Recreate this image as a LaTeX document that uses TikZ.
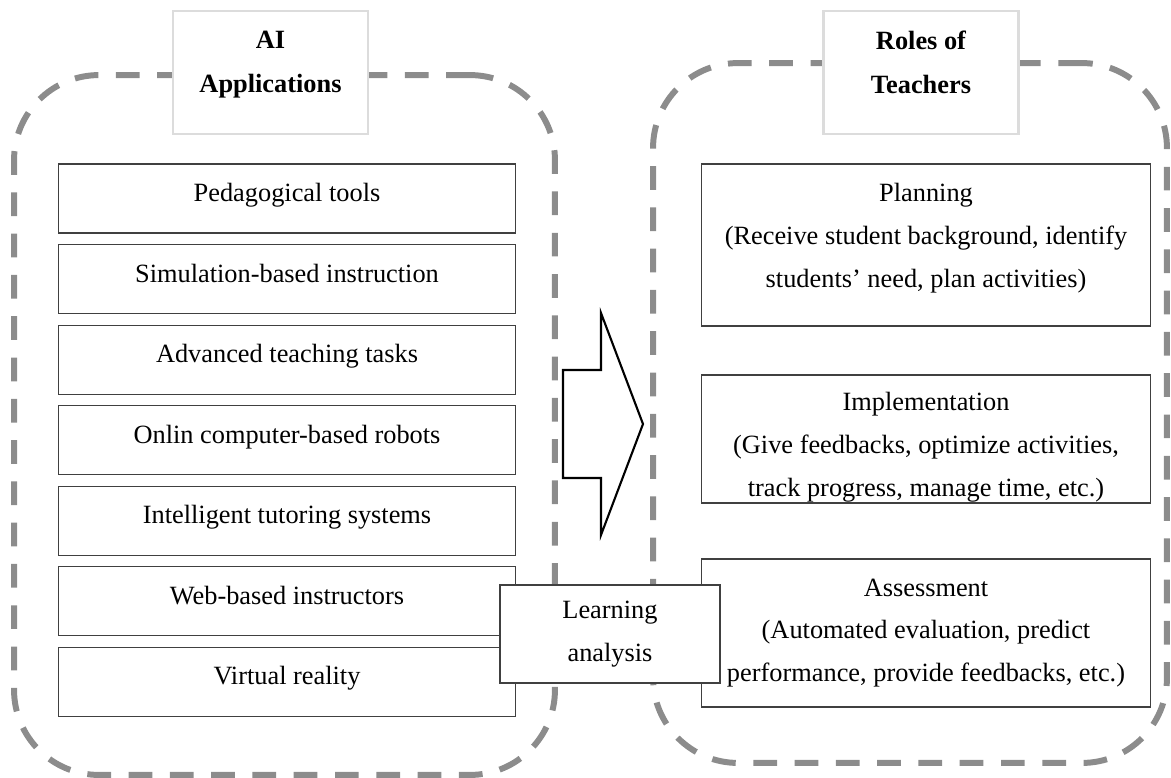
\documentclass[tikz,border=0pt]{standalone}
\usepackage{fontspec}
\setmainfont{Liberation Serif}
\usetikzlibrary{positioning}
\definecolor{cdash}{HTML}{8C8C8C}
\definecolor{ctitle}{HTML}{DCDCDC}
\definecolor{cbox}{HTML}{404040}

\begin{document}
\begin{tikzpicture}[
    x=0.02cm, y=-0.02cm,
    node distance=2.1mm,
    every node/.style={font=\fontsize{15}{24.4}\selectfont},
    group/.style={draw=cdash, line width=3.4pt, dash pattern=on 13.5pt off 10pt,
                  rounded corners=1.7cm, minimum height=14cm},
    titlebox/.style={draw=ctitle, fill=white, line width=1.2pt, align=center,
                  minimum width=3.9cm, minimum height=2.46cm, font=\fontsize{15}{24.8}\selectfont\bfseries},
    appbox/.style={draw=cbox, fill=white, line width=0.6pt, minimum width=9.16cm,
                  minimum height=1.38cm, text height=12pt, text depth=8.6pt},
    rolebox/.style={draw=cbox, fill=white, line width=0.6pt, align=center,
                  minimum width=9cm, inner xsep=1pt, inner ysep=0pt},
    labox/.style={draw=cbox, fill=white, line width=0.6pt, align=center,
                  minimum width=4.4cm, minimum height=1.96cm}
]
\useasboundingbox (0,0) rectangle (1171,778);
% dashed groups
\node[group, minimum width=10.82cm] (lgroup) at (284.5,425) {};
\node[group, minimum width=10.28cm] (rgroup) at (910,413) {};
\node[titlebox] (aititle) at (270.5,72.5) {AI\\Applications\rule[-12pt]{0pt}{0pt}};
\node[titlebox] (roletitle) at (921,72.5) {Roles of\\Teachers\rule[-12pt]{0pt}{0pt}};
% AI applications
\node[appbox] (tools) at (287,198.5) {Pedagogical tools};
\node[appbox, below=of tools] (sim) {Simulation-based instruction};
\node[appbox, below=of sim] (adv) {Advanced teaching tasks};
\node[appbox, below=of adv] (robots) {Onlin computer-based robots};
\node[appbox, below=of robots] (its) {Intelligent tutoring systems};
\node[appbox, below=of its] (web) {Web-based instructors};
\node[appbox, below=of web] (vr) {Virtual reality};
% roles of teachers
\node[rolebox, minimum height=3.24cm] (plan) at (926,245)
  {Planning\\(Receive student background, identify\\students’ need, plan activities)\rule[-11pt]{0pt}{0pt}};
\node[rolebox, minimum height=2.56cm] (impl) at (926,439)
  {\rule{0pt}{20pt}Implementation\\(Give feedbacks, optimize activities,\\track progress, manage time, etc.)};
\node[rolebox, minimum height=2.96cm] (assess) at (926,633)
  {Assessment\\(Automated evaluation, predict\\performance, provide feedbacks, etc.)};
\node[labox] (la) at (610,634) {Learning\\analysis};
% big arrow
\draw[line width=1.2pt, fill=white] (563,370) -- (601,370) -- (601,313) -- (643,424)
  -- (601,535) -- (601,478) -- (563,478) -- cycle;
\end{tikzpicture}
\end{document}
